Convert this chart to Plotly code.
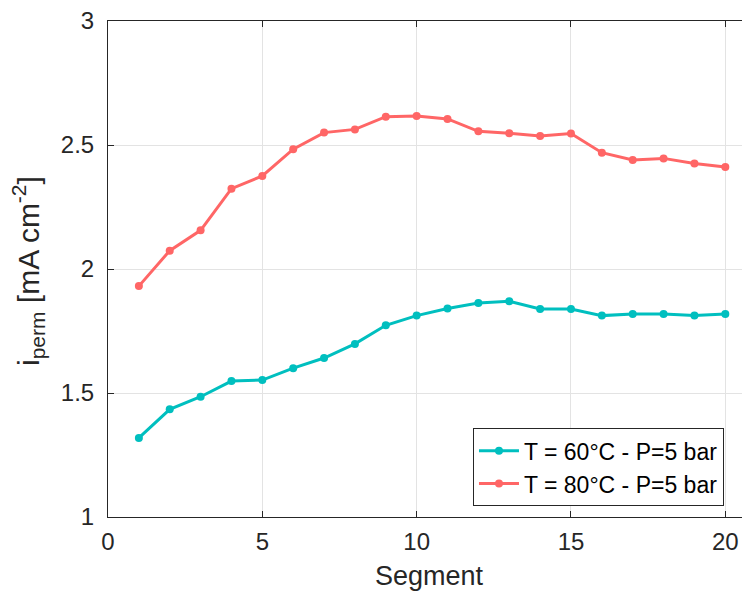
import plotly.graph_objects as go

segments = list(range(1, 21))
i_perm_60 = [1.319, 1.434, 1.485, 1.548, 1.552, 1.600, 1.641, 1.698, 1.773, 1.812,
             1.841, 1.863, 1.870, 1.839, 1.839, 1.812, 1.819, 1.819, 1.812, 1.819]
i_perm_80 = [1.931, 2.074, 2.156, 2.324, 2.375, 2.483, 2.550, 2.563, 2.614, 2.617,
             2.605, 2.555, 2.547, 2.536, 2.546, 2.469, 2.440, 2.446, 2.425, 2.411]
names = ["T = 60°C - P=5 bar", "T = 80°C - P=5 bar"]
colors = ["#00BFBF", "#FF6666"]
x_ticks = [0, 5, 10, 15, 20]
y_ticks = [1, 1.5, 2, 2.5, 3]
x_title = "Segment"
y_title = "i<sub>perm</sub> [mA cm<sup>-2</sup>]"

fig = go.Figure()
for ys, name, c in zip([i_perm_60, i_perm_80], names, colors):
    fig.add_trace(go.Scatter(
        x=segments, y=ys, mode="lines+markers", name=name,
        line=dict(color=c, width=3), marker=dict(color=c, size=8),
    ))

font_family = "Liberation Sans, Arial, sans-serif"
axis_common = dict(
    showgrid=True, gridcolor="#e3e3e3", gridwidth=1,
    showline=True, linecolor="#262626", linewidth=1, mirror="ticks",
    ticks="inside", ticklen=6, tickcolor="#262626",
    tickfont=dict(family=font_family, size=24, color="#262626"),
    zeroline=False, ticklabeloverflow="allow",
)
fig.update_xaxes(
    range=[0, 20.8], tickvals=x_ticks, ticktext=[str(v) for v in x_ticks],
    ticklabelstandoff=3,
    title=dict(text=x_title, font=dict(family=font_family, size=27, color="#262626"), standoff=12),
    **axis_common,
)
fig.update_yaxes(
    range=[1, 3], tickvals=y_ticks, ticktext=[("%g" % v) for v in y_ticks],
    ticklabelstandoff=8,
    **axis_common,
)
fig.add_annotation(
    text=y_title, textangle=-90, showarrow=False,
    xref="paper", yref="paper", x=0, y=0.5, xanchor="center", yanchor="middle",
    xshift=-80, yshift=-2,
    font=dict(family=font_family, size=30, color="#262626"),
)
fig.update_layout(
    width=742, height=586,
    margin=dict(l=100, r=0, t=13, b=77),
    plot_bgcolor="white", paper_bgcolor="white",
    font=dict(family=font_family),
    showlegend=True,
    legend=dict(
        x=0.5685, y=0.179, xanchor="left", yanchor="top",
        bgcolor="white", bordercolor="#262626", borderwidth=1,
        font=dict(family=font_family, size=23, color="#000000"),
        tracegroupgap=0, itemwidth=40,
    ),
)
fig.write_html("out.html")
